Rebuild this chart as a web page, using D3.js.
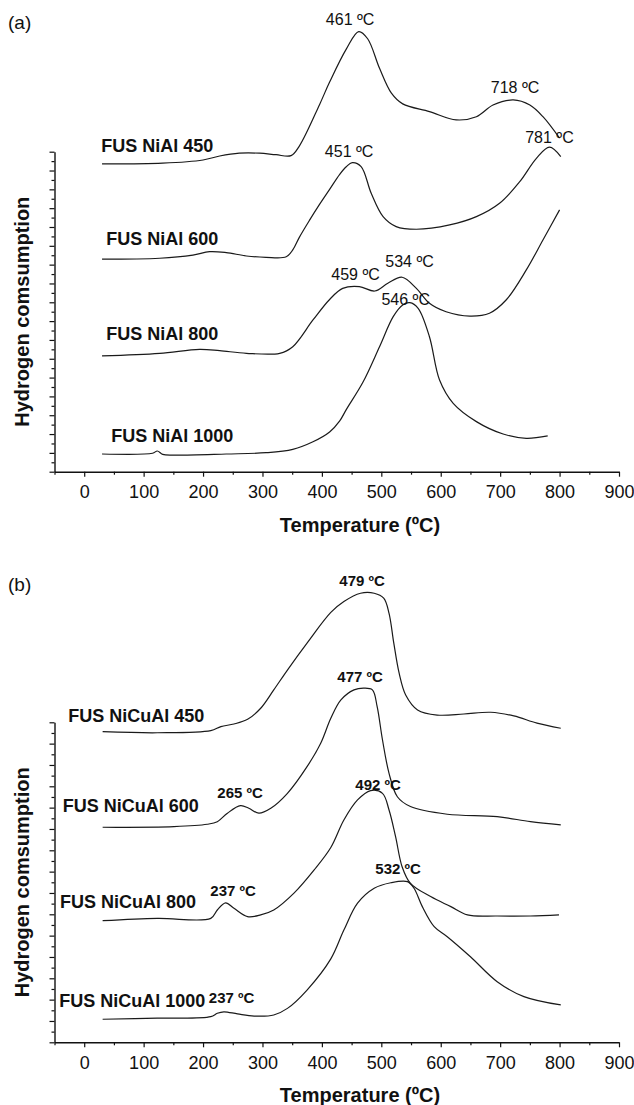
<!DOCTYPE html>
<html>
<head>
<meta charset="utf-8">
<script src="https://cdn.jsdelivr.net/npm/d3@7"></script>
<style>
  body { margin: 0; background: #fff; }
  svg { display: block; font-family: "Liberation Sans", Arial, sans-serif; }
</style>
</head>
<body>
<svg width="634" height="1105"></svg>
<script>
// TPR profiles, [temperature ºC, H2 consumption a.u.]
// (a) FUS NiAl
const niAl450 = [[30,16.35],[132,16.39],[200,16.56],[228,16.77],[261,16.92],[295,16.92],[323,16.84],[348,16.79],[362,17.3],[396,19.5],[413,20.7],[441,22.45],[462,23.38],[477,23.0],[497,21.43],[517,20.11],[536,19.54],[581,19.13],[626,18.69],[660,18.86],[688,19.48],[722,19.75],[750,19.48],[772,18.86],[800,17.72]];
const niAl600 = [[30,11.29],[127,11.34],[183,11.51],[211,11.69],[239,11.64],[273,11.46],[306,11.39],[340,11.42],[351,11.78],[362,12.45],[379,13.35],[396,14.2],[413,15.0],[430,15.8],[441,16.2],[451,16.42],[466,16.21],[483,14.79],[503,13.55],[525,13.02],[559,12.88],[615,13.11],[660,13.55],[699,14.26],[733,15.41],[761,16.65],[783,17.24],[802,16.74]];
const niAl800 = [[30,6.15],[127,6.29],[194,6.5],[228,6.43],[273,6.29],[329,6.29],[351,6.64],[385,8.06],[413,9.15],[435,9.74],[463,9.83],[489,9.6],[511,10.01],[535,10.33],[559,9.74],[581,8.95],[609,8.5],[649,8.27],[682,8.42],[710,9.12],[744,10.72],[772,12.31],[800,13.91]];
const niAl1000 = [[30,0.94],[115,0.98],[123,1.1],[132,0.92],[150,0.88],[239,0.94],[306,1.01],[351,1.19],[385,1.59],[413,2.11],[430,2.7],[441,3.3],[469,4.75],[497,6.64],[520,8.24],[536,8.86],[548,8.98],[562,8.68],[581,7.17],[598,4.87],[621,3.63],[660,2.66],[705,2.0],[744,1.77],[780,1.9]];

// (b) FUS NiCuAl
const niCuAl450 = [[31,14.56],[123,14.51],[213,14.61],[230,14.8],[252,14.92],[275,15.14],[297,15.66],[319,16.52],[342,17.45],[375,18.71],[415,20.15],[437,20.66],[465,21.05],[488,21.05],[504,20.82],[513,20.11],[521,18.71],[530,17.3],[541,16.28],[561,15.58],[594,15.34],[639,15.39],[684,15.47],[723,15.3],[762,14.96],[802,14.72]];
const niCuAl600 = [[31,10.08],[151,10.11],[207,10.22],[224,10.34],[241,10.74],[263,11.09],[277,10.97],[294,10.74],[314,10.97],[342,11.67],[375,12.92],[398,14.02],[415,15.19],[432,16.05],[454,16.52],[471,16.6],[485,16.52],[493,15.73],[502,14.17],[513,12.61],[527,11.51],[549,11.05],[611,10.69],[695,10.58],[751,10.34],[802,10.19]];
const niCuAl800 = [[31,5.7],[123,5.81],[213,5.81],[224,6.2],[238,6.54],[252,6.28],[275,5.89],[297,5.97],[319,6.2],[353,6.99],[387,8.08],[415,9.13],[437,10.42],[460,11.36],[482,11.8],[502,11.67],[513,10.89],[524,9.64],[535,8.23],[549,7.45],[583,6.83],[617,6.36],[645,5.97],[695,5.92],[751,5.92],[799,5.97]];
const niCuAl1000 = [[31,1.08],[123,1.13],[213,1.2],[224,1.36],[235,1.43],[258,1.33],[286,1.23],[319,1.28],[342,1.59],[375,2.45],[415,3.91],[437,5.26],[460,6.52],[488,7.22],[516,7.48],[544,7.53],[555,7.22],[569,6.36],[589,5.42],[611,4.95],[650,4.01],[695,2.84],[740,2.14],[802,1.75]];

// sample names, anchored at [T, a.u.]
const namesA = [["FUS NiAl 450", 28.6, 17.0], ["FUS NiAl 600", 37, 12.05], ["FUS NiAl 800", 37, 7.0], ["FUS NiAl 1000", 45.5, 1.59]];
const namesB = [["FUS NiCuAl 450", -26.8, 15.03], ["FUS NiCuAl 600", -36.2, 10.81], ["FUS NiCuAl 800", -40.7, 6.28], ["FUS NiCuAl 1000", -41.9, 1.67]];

// peak maxima labels, [text, T, a.u.]
const peaksA = [["461 ºC", 447.5, 23.73], ["718 ºC", 725, 20.1], ["781 ºC", 783, 17.44], ["451 ºC", 445.8, 16.7],
                ["534 ºC", 547.6, 10.9], ["459 ºC", 456.7, 10.19], ["546 ºC", 541, 8.86]];
const peaksB = [["479 ºC", 467.7, 21.37], ["477 ºC", 464.3, 16.91], ["492 ºC", 494.6, 11.83], ["532 ºC", 528.3, 7.89],
                ["265 ºC", 262.3, 11.45], ["237 ºC", 250.5, 6.84], ["237 ºC", 248, 1.84]];

const xTicks = d3.range(0, 901, 100);
const xMinor = d3.range(-50, 900, 100);

const svg = d3.select("svg");

const drawPanel = (p) => {
  const x = d3.scaleLinear().domain([-50, 900]).range([54.5, 619]);
  const y = d3.scaleLinear().domain([0, p.yMax]).range([p.bottom, p.top]);
  const g = svg.append("g");

  // minor ticks
  g.append("g")
   .attr("transform", `translate(0, ${p.bottom})`)
   .call(d3.axisBottom(x).tickValues(xMinor).tickSize(3).tickSizeOuter(0).tickFormat(""))
   .call(a => a.select(".domain").remove());
  g.append("g")
   .attr("transform", `translate(${x(-50)}, 0)`)
   .call(d3.axisLeft(y).tickValues(d3.range(0.5, p.yMax, 1)).tickSize(3).tickSizeOuter(0).tickFormat(""))
   .call(a => a.select(".domain").remove());

  const xAxis = g.append("g")
   .attr("transform", `translate(0, ${p.bottom})`)
   .call(d3.axisBottom(x).tickValues(xTicks).tickSize(5).tickSizeOuter(0).tickPadding(9));
  xAxis.selectAll(".tick text")
       .attr("font-size", 18)
       .attr("font-family", "Liberation Sans, Arial, sans-serif")
       .attr("fill", "#111");

  g.append("g")
   .attr("transform", `translate(${x(-50)}, 0)`)
   .call(d3.axisLeft(y).tickValues(d3.range(0, p.yMax + 0.01, 1)).tickSize(5).tickSizeOuter(0).tickFormat(""));

  g.selectAll(".domain").attr("stroke", "#111").attr("stroke-width", 1.4);
  g.selectAll(".tick line").attr("stroke", "#111").attr("stroke-width", 1.2);

  const line = d3.line()
                 .x(d => x(d[0]))
                 .y(d => y(d[1]))
                 .curve(d3.curveCatmullRom.alpha(0.5));

  g.selectAll(".curve")
   .data(p.series)
   .enter()
   .append("path")
   .attr("class", "curve")
   .attr("d", line)
   .attr("fill", "none")
   .attr("stroke", "#1a1a1a")
   .attr("stroke-width", 1.2);

  g.selectAll(".name")
   .data(p.names)
   .enter()
   .append("text")
   .attr("x", d => x(d[1]))
   .attr("y", d => y(d[2]))
   .attr("font-size", 18)
   .attr("font-weight", "bold")
   .attr("fill", "#111")
   .text(d => d[0]);

  g.selectAll(".peak")
   .data(p.peaks)
   .enter()
   .append("text")
   .attr("x", d => x(d[1]))
   .attr("y", d => y(d[2]))
   .attr("text-anchor", "middle")
   .attr("font-size", p.peakSize)
   .attr("font-weight", p.peakWeight)
   .attr("fill", "#111")
   .text(d => d[0]);

  g.append("text")
   .attr("x", 360)
   .attr("y", p.bottom + 60)
   .attr("text-anchor", "middle")
   .attr("font-size", 20)
   .attr("font-weight", "bold")
   .attr("fill", "#111")
   .text("Temperature (ºC)");

  g.append("text")
   .attr("transform", `translate(29, ${(p.top + p.bottom) / 2}) rotate(-90)`)
   .attr("text-anchor", "middle")
   .attr("font-size", 20)
   .attr("font-weight", "bold")
   .attr("fill", "#111")
   .text("Hydrogen comsumption");

  g.append("text")
   .attr("x", 8)
   .attr("y", p.top - p.tagOffset)
   .attr("font-size", 19)
   .attr("fill", "#111")
   .text(p.tag);
};

drawPanel({ tag: "(a)", tagOffset: 122.7, top: 151.7, bottom: 471.7, yMax: 17,
            series: [niAl450, niAl600, niAl800, niAl1000], names: namesA, peaks: peaksA,
            peakWeight: "normal", peakSize: 16 });
drawPanel({ tag: "(b)", tagOffset: 131, top: 722.3, bottom: 1042.3, yMax: 15,
            series: [niCuAl450, niCuAl600, niCuAl800, niCuAl1000], names: namesB, peaks: peaksB,
            peakWeight: "bold", peakSize: 15 });
</script>
</body>
</html>
